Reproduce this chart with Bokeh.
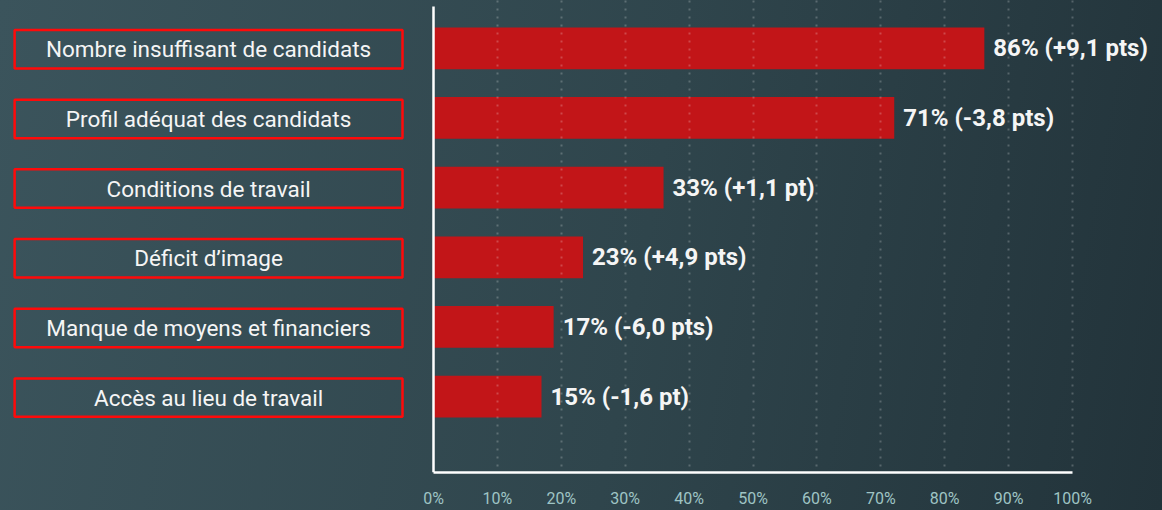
from bokeh.plotting import figure
from bokeh.models import Range1d, FixedTicker, ColumnDataSource, PrintfTickFormatter
from bokeh.core.properties import value
from bokeh.embed import file_html
from bokeh.resources import INLINE

categories = [
    "Nombre insuffisant de candidats",
    "Profil adéquat des candidats",
    "Conditions de travail",
    "Déficit d’image",
    "Manque de moyens et financiers",
    "Accès au lieu de travail",
]
bar_values = [86.2, 72.1, 36.0, 23.4, 18.8, 16.9]
value_labels = [
    "86% (+9,1 pts)",
    "71% (-3,8 pts)",
    "33% (+1,1 pt)",
    "23% (+4,9 pts)",
    "17% (-6,0 pts)",
    "15% (-1,6 pt)",
]
tick_values = [0, 10, 20, 30, 40, 50, 60, 70, 80, 90, 100]

positions = list(range(len(categories)))

W, H = 1162, 510
FRAME_H = 479

p = figure(
    width=W, height=H,
    x_range=Range1d(-67.76, 114.08),
    y_range=Range1d(6.089, -0.686),
    output_backend="svg", toolbar_location=None,
    min_border_left=0, min_border_right=0, min_border_top=0,
    min_border_bottom=H - FRAME_H,
)
p.styles = {"background": "linear-gradient(100deg, #3b545c 0%, #2f454c 55%, #22333a 100%)"}
p.border_fill_color = None
p.background_fill_color = None
p.outline_line_color = None
p.yaxis.visible = False
p.ygrid.visible = False

# x axis
ax = p.xaxis[0]
ax.ticker = FixedTicker(ticks=tick_values)
ax.formatter = PrintfTickFormatter(format="%d%%")
ax.bounds = (0, 100)
ax.axis_line_color = "white"
ax.axis_line_width = 2.5
ax.major_tick_line_color = None
ax.minor_tick_line_color = None
ax.major_label_standoff = 10
ax.major_label_text_color = "#9fc4c4"
ax.major_label_text_font = "Roboto"
ax.major_label_text_font_size = "16px"

g = p.xgrid[0]
g.ticker = FixedTicker(ticks=tick_values[1:])
g.grid_line_color = "white"
g.grid_line_alpha = 0.22
g.grid_line_width = 2
g.grid_line_dash = "2 6"
g.level = "annotation"

src = ColumnDataSource(dict(cat=categories, y=positions, v=bar_values, lab=value_labels))

p.hbar(y="y", left=0, right="v", height=0.6, source=src, fill_color="#c21518", line_color=None)

# vertical axis line at 0%
vline = p.segment(x0=[0], x1=[0], y0=[positions[0] - 0.6], y1=[6.089],
                  line_color="white", line_width=2.5)

# category boxes and labels
p.rect(x=-35.2, y=[v + 0.014 for v in positions], width=60.7, height=0.552, fill_alpha=0,
       line_color="#ff0a0a", line_width=2.5)
t1 = p.text(x=-35.2, y="y", text="cat", source=src, text_font=value("Roboto"),
            text_font_size="22.5px", text_color="#f5f5f5", text_align="center",
            text_baseline="middle", y_offset=1)
t2 = p.text(x="v", y="y", text="lab", source=src, x_offset=9, text_font=value("Roboto"),
            text_font_size="24px", text_font_style="bold", text_color="#f5f5f5",
            text_align="left", text_baseline="middle")
t1.level = "overlay"
t2.level = "overlay"

open("out.html", "w").write(file_html(p, INLINE))
